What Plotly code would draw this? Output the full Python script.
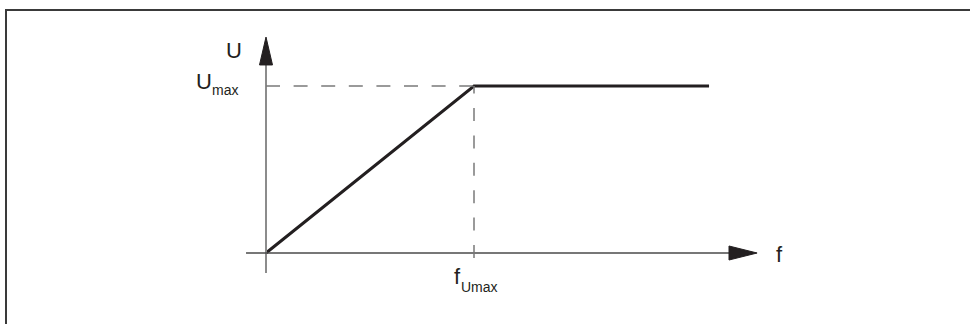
import plotly.graph_objects as go

# ---- data (normalised units: f_Umax = 1, U_max = 1) ----
f_curve = [0.0, 1.0, 2.13]
U_curve = [0.0, 1.0, 1.0]
f_umax = 1.0
u_max = 1.0
x_axis_range = [-0.096, 2.226]   # axis line extent (before arrow)
x_arrow_tip = 2.361
y_axis_range = [-0.12, 1.126]
y_arrow_tip = 1.293
dash_bottom = -0.03

# scale: 208 px per f unit, 167 px per U unit, origin at (266, 253)
PX_F = 208.0
PX_U = 167.0
W, H = 970, 324
ox, oy = 266.0, 253.0

fig = go.Figure()

# main characteristic
fig.add_trace(go.Scatter(x=f_curve, y=U_curve, mode="lines",
                         line=dict(color="#231f20", width=3),
                         hoverinfo="skip", showlegend=False))

shapes = []
# y axis
shapes.append(dict(type="line", xref="x", yref="y", x0=0, x1=0,
                   y0=y_axis_range[0], y1=y_axis_range[1],
                   line=dict(color="#8c8c8c", width=2)))
# x axis
shapes.append(dict(type="line", xref="x", yref="y", x0=x_axis_range[0], x1=x_axis_range[1],
                   y0=0, y1=0, line=dict(color="#4a4a4a", width=1.5)))
# arrow heads
hw = 6.5 / PX_F
shapes.append(dict(type="path", xref="x", yref="y",
                   path=f"M {-hw} {y_axis_range[1]} L {hw} {y_axis_range[1]} L 0 {y_arrow_tip} Z",
                   fillcolor="#231f20", line=dict(color="#231f20", width=1)))
hh = 7.0 / PX_U
shapes.append(dict(type="path", xref="x", yref="y",
                   path=f"M {x_axis_range[1]} {-hh} L {x_axis_range[1]} {hh} L {x_arrow_tip} 0 Z",
                   fillcolor="#231f20", line=dict(color="#231f20", width=1)))
# dashed guides
shapes.append(dict(type="line", xref="x", yref="y", x0=0, x1=f_umax, y0=u_max, y1=u_max,
                   line=dict(color="#7a7a7a", width=1.5, dash="14px,13.6px")))
shapes.append(dict(type="line", xref="x", yref="y", x0=f_umax, x1=f_umax, y0=dash_bottom, y1=u_max,
                   line=dict(color="#7a7a7a", width=1.5, dash="13px,14.4px")))
# frame (top and left edges)
shapes.append(dict(type="line", xref="paper", yref="paper", x0=5 / W, x1=1, y0=1 - 10 / H, y1=1 - 10 / H,
                   line=dict(color="#3a3a3a", width=2)))
shapes.append(dict(type="line", xref="paper", yref="paper", x0=6 / W, x1=6 / W, y0=0, y1=1 - 10 / H,
                   line=dict(color="#3a3a3a", width=2)))

def fx(px):
    return (px - ox) / PX_F

def uy(py):
    return (oy - py) / PX_U

font = "Liberation Sans, Arial, sans-serif"
ann = []
def label(text, px, py, size, anchor="left"):
    ann.append(dict(text=text, x=fx(px), y=uy(py), xref="x", yref="y", showarrow=False,
                    xanchor=anchor, yanchor="middle", borderpad=0, borderwidth=0,
                    font=dict(family=font, size=size, color="#231f20")))

label("U", 226, 50, 22)
label("U", 196, 81, 22)
label("max", 212, 90, 14)
label("f", 776, 254, 22)
label("f", 454, 276, 22)
label("Umax", 461, 287, 14)

fig.update_layout(
    width=W, height=H, margin=dict(l=0, r=0, t=0, b=0),
    paper_bgcolor="white", plot_bgcolor="white",
    xaxis=dict(range=[fx(0), fx(W)], visible=False, fixedrange=True),
    yaxis=dict(range=[uy(H), uy(0)], visible=False, fixedrange=True),
    shapes=shapes, annotations=ann, showlegend=False,
)

fig.write_html("out.html", config={"displayModeBar": False},
               post_script="document.body.style.margin='0';document.body.style.overflow='hidden';")
